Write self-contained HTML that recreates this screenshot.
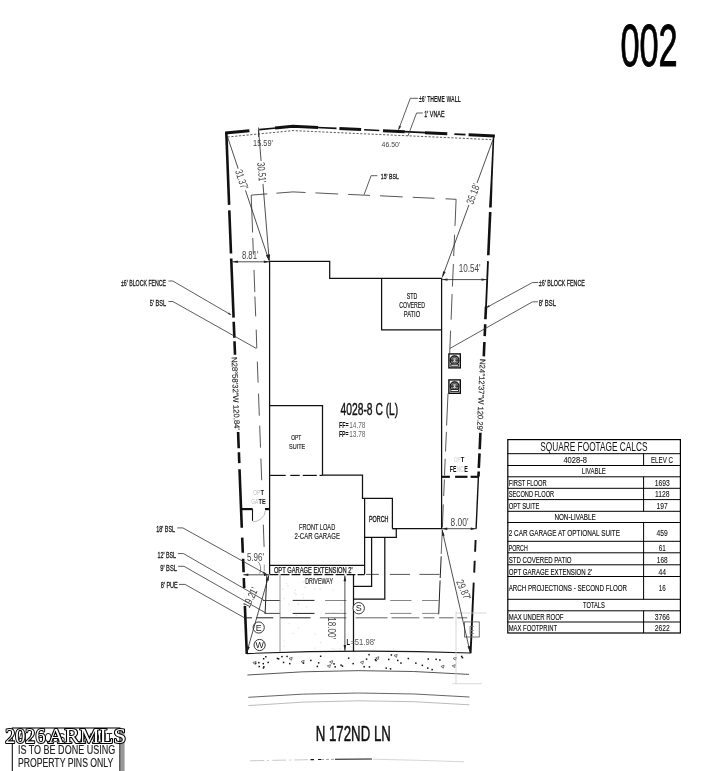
<!DOCTYPE html>
<html lang="en"><head><meta charset="utf-8"><title>Plot Plan 002</title>
<style>html,body{margin:0;padding:0;background:#fff}body{width:715px;height:771px;overflow:hidden}svg{will-change:transform}svg text{white-space:pre}</style></head>
<body>
<svg width="715" height="771" viewBox="0 0 715 771" style="display:block">
<rect width="715" height="771" fill="#fff"/>
<path d="M246.8 653.6 Q358 648.9 470.6 653.0" fill="none" stroke="#1a1a1a" stroke-width="1.1"/>
<path d="M247.4 675.0 Q358 666.6 469 674.4" fill="none" stroke="#444" stroke-width="0.9"/>
<path d="M248.3 697.3 Q358 688.9 469.5 697.0" fill="none" stroke="#555" stroke-width="0.9"/>
<path d="M248.3 705.6 Q358 696.4 469.5 704.8" fill="none" stroke="#aaa" stroke-width="0.8"/>
<path d="M250 760.8 Q290 760.0 310 759.7" fill="none" stroke="#bbb" stroke-width="0.8" stroke-dasharray="14 3 2 3"/>
<path d="M310.5 759.6 L314 759.6 M318 759.5 L321 759.5 M335 759.3 L372 759.0" fill="none" stroke="#111" stroke-width="1.1"/>
<path d="M321 759.5 L335 759.3" fill="none" stroke="#888" stroke-width="0.8" stroke-dasharray="3 2"/>
<path d="M373 759.2 Q420 760.2 464 761.8" fill="none" stroke="#ccc" stroke-width="0.8"/>
<rect x="319.9" y="655.5" width="1.5" height="1.5" fill="#111"/>
<rect x="390.6" y="654.2" width="1.5" height="1.5" fill="#111"/>
<rect x="365.8" y="658.4" width="1.5" height="1.5" fill="#111"/>
<rect x="262.5" y="662.9" width="1.5" height="1.5" fill="#111"/>
<rect x="258.1" y="661.9" width="1.5" height="1.5" fill="#111"/>
<rect x="265.1" y="656.0" width="1.5" height="1.5" fill="#111"/>
<rect x="341.7" y="665.4" width="1.5" height="1.5" fill="#111"/>
<rect x="276.7" y="657.7" width="1.5" height="1.5" fill="#111"/>
<rect x="385.5" y="667.4" width="1.5" height="1.5" fill="#111"/>
<rect x="374.7" y="658.9" width="1.5" height="1.5" fill="#111"/>
<rect x="460.9" y="655.7" width="1.5" height="1.5" fill="#111"/>
<rect x="435.4" y="658.6" width="1.5" height="1.5" fill="#111"/>
<rect x="281.2" y="655.9" width="1.5" height="1.5" fill="#111"/>
<rect x="316.6" y="665.7" width="1.5" height="1.5" fill="#111"/>
<rect x="289.0" y="662.9" width="1.5" height="1.5" fill="#111"/>
<rect x="388.0" y="658.7" width="1.5" height="1.5" fill="#111"/>
<rect x="368.3" y="653.9" width="1.5" height="1.5" fill="#111"/>
<rect x="262.9" y="658.0" width="1.5" height="1.5" fill="#111"/>
<rect x="397.0" y="659.7" width="1.5" height="1.5" fill="#111"/>
<rect x="317.9" y="662.1" width="1.5" height="1.5" fill="#111"/>
<rect x="347.9" y="657.4" width="1.5" height="1.5" fill="#111"/>
<rect x="421.6" y="664.6" width="1.5" height="1.5" fill="#111"/>
<rect x="302.7" y="662.4" width="1.5" height="1.5" fill="#111"/>
<rect x="363.4" y="666.0" width="1.5" height="1.5" fill="#111"/>
<rect x="407.6" y="657.8" width="1.5" height="1.5" fill="#111"/>
<rect x="461.7" y="656.9" width="1.5" height="1.5" fill="#111"/>
<rect x="340.3" y="664.4" width="1.5" height="1.5" fill="#111"/>
<rect x="282.8" y="661.7" width="1.5" height="1.5" fill="#111"/>
<rect x="258.5" y="665.8" width="1.5" height="1.5" fill="#111"/>
<rect x="415.1" y="662.4" width="1.5" height="1.5" fill="#111"/>
<rect x="439.1" y="659.2" width="1.5" height="1.5" fill="#111"/>
<rect x="400.2" y="662.3" width="1.5" height="1.5" fill="#111"/>
<rect x="375.3" y="659.8" width="1.5" height="1.5" fill="#111"/>
<rect x="431.4" y="668.9" width="1.5" height="1.5" fill="#111"/>
<rect x="352.4" y="662.9" width="1.5" height="1.5" fill="#111"/>
<rect x="263.1" y="666.1" width="1.5" height="1.5" fill="#111"/>
<rect x="389.8" y="668.1" width="1.5" height="1.5" fill="#111"/>
<rect x="427.5" y="658.3" width="1.5" height="1.5" fill="#111"/>
<rect x="333.3" y="663.1" width="1.5" height="1.5" fill="#111"/>
<rect x="254.9" y="662.6" width="1.5" height="1.5" fill="#111"/>
<rect x="286.3" y="655.7" width="1.5" height="1.5" fill="#111"/>
<rect x="262.7" y="667.2" width="1.5" height="1.5" fill="#111"/>
<rect x="277.9" y="658.1" width="1.5" height="1.5" fill="#111"/>
<rect x="334.4" y="666.1" width="1.5" height="1.5" fill="#111"/>
<rect x="267.4" y="661.7" width="1.5" height="1.5" fill="#111"/>
<rect x="368.7" y="666.2" width="1.5" height="1.5" fill="#111"/>
<rect x="427.0" y="667.4" width="1.5" height="1.5" fill="#111"/>
<rect x="310.1" y="659.7" width="1.5" height="1.5" fill="#111"/>
<path d="M327.3 665.9 l3.2 -1.2 l-0.8 3.0 z" fill="none" stroke="#444" stroke-width="0.7"/>
<path d="M453.1 658.4 l3.2 -1.2 l-0.8 3.0 z" fill="none" stroke="#444" stroke-width="0.7"/>
<path d="M289.0 658.5 l3.2 -1.2 l-0.8 3.0 z" fill="none" stroke="#444" stroke-width="0.7"/>
<path d="M301.0 661.5 l3.2 -1.2 l-0.8 3.0 z" fill="none" stroke="#444" stroke-width="0.7"/>
<path d="M375.7 657.9 l3.2 -1.2 l-0.8 3.0 z" fill="none" stroke="#444" stroke-width="0.7"/>
<path d="M252.9 662.6 l3.2 -1.2 l-0.8 3.0 z" fill="none" stroke="#444" stroke-width="0.7"/>
<path d="M329.5 661.8 l3.2 -1.2 l-0.8 3.0 z" fill="none" stroke="#444" stroke-width="0.7"/>
<path d="M452.2 665.8 l3.2 -1.2 l-0.8 3.0 z" fill="none" stroke="#444" stroke-width="0.7"/>
<path d="M360.3 662.3 l3.2 -1.2 l-0.8 3.0 z" fill="none" stroke="#444" stroke-width="0.7"/>
<path d="M394.0 655.5 l3.2 -1.2 l-0.8 3.0 z" fill="none" stroke="#444" stroke-width="0.7"/>
<path d="M440.9 666.4 l3.2 -1.2 l-0.8 3.0 z" fill="none" stroke="#444" stroke-width="0.7"/>
<rect x="335.3" y="634.6" width="1.3" height="1.3" fill="#e4e4e4"/>
<rect x="305.9" y="606.3" width="1.3" height="1.3" fill="#e4e4e4"/>
<rect x="288.3" y="623.0" width="1.3" height="1.3" fill="#e4e4e4"/>
<rect x="285.8" y="582.8" width="1.3" height="1.3" fill="#e4e4e4"/>
<rect x="294.7" y="589.5" width="1.3" height="1.3" fill="#e4e4e4"/>
<rect x="302.7" y="581.7" width="1.3" height="1.3" fill="#e4e4e4"/>
<rect x="282.0" y="588.7" width="1.3" height="1.3" fill="#e4e4e4"/>
<rect x="288.2" y="603.8" width="1.3" height="1.3" fill="#e4e4e4"/>
<rect x="283.6" y="640.1" width="1.3" height="1.3" fill="#e4e4e4"/>
<rect x="319.5" y="588.5" width="1.3" height="1.3" fill="#e4e4e4"/>
<rect x="297.4" y="602.7" width="1.3" height="1.3" fill="#e4e4e4"/>
<rect x="304.2" y="586.7" width="1.3" height="1.3" fill="#e4e4e4"/>
<rect x="333.8" y="648.5" width="1.3" height="1.3" fill="#e4e4e4"/>
<rect x="310.4" y="612.4" width="1.3" height="1.3" fill="#e4e4e4"/>
<rect x="287.2" y="585.3" width="1.3" height="1.3" fill="#e4e4e4"/>
<rect x="302.9" y="596.8" width="1.3" height="1.3" fill="#e4e4e4"/>
<rect x="332.6" y="589.5" width="1.3" height="1.3" fill="#e4e4e4"/>
<rect x="283.4" y="645.5" width="1.3" height="1.3" fill="#e4e4e4"/>
<rect x="314.2" y="588.4" width="1.3" height="1.3" fill="#e4e4e4"/>
<rect x="315.1" y="579.9" width="1.3" height="1.3" fill="#e4e4e4"/>
<rect x="314.2" y="647.5" width="1.3" height="1.3" fill="#e4e4e4"/>
<rect x="334.7" y="627.4" width="1.3" height="1.3" fill="#e4e4e4"/>
<rect x="297.9" y="604.0" width="1.3" height="1.3" fill="#e4e4e4"/>
<rect x="292.2" y="632.8" width="1.3" height="1.3" fill="#e4e4e4"/>
<rect x="314.5" y="633.3" width="1.3" height="1.3" fill="#e4e4e4"/>
<rect x="302.1" y="593.8" width="1.3" height="1.3" fill="#e4e4e4"/>
<rect x="331.5" y="647.9" width="1.3" height="1.3" fill="#e4e4e4"/>
<rect x="334.0" y="635.2" width="1.3" height="1.3" fill="#e4e4e4"/>
<rect x="331.9" y="630.5" width="1.3" height="1.3" fill="#e4e4e4"/>
<rect x="295.8" y="614.8" width="1.3" height="1.3" fill="#e4e4e4"/>
<rect x="303.7" y="580.1" width="1.3" height="1.3" fill="#e4e4e4"/>
<rect x="283.7" y="597.8" width="1.3" height="1.3" fill="#e4e4e4"/>
<rect x="297.8" y="627.2" width="1.3" height="1.3" fill="#e4e4e4"/>
<rect x="340.3" y="609.8" width="1.3" height="1.3" fill="#e4e4e4"/>
<rect x="339.2" y="648.2" width="1.3" height="1.3" fill="#e4e4e4"/>
<rect x="340.3" y="603.9" width="1.3" height="1.3" fill="#e4e4e4"/>
<rect x="295.4" y="594.1" width="1.3" height="1.3" fill="#e4e4e4"/>
<rect x="294.0" y="592.5" width="1.3" height="1.3" fill="#e4e4e4"/>
<rect x="320.1" y="641.9" width="1.3" height="1.3" fill="#e4e4e4"/>
<rect x="333.3" y="612.0" width="1.3" height="1.3" fill="#e4e4e4"/>
<polyline points="225.2,133.1 249.4,130.7" fill="none" stroke="#111" stroke-width="3.0"/>
<polyline points="259.2,129.7 276.0,128.0" fill="none" stroke="#111" stroke-width="1.7"/>
<polyline points="275.0,128.1 292.8,126.3 318.0,127.5" fill="none" stroke="#111" stroke-width="3.0"/>
<polyline points="317.0,127.5 336.5,128.4" fill="none" stroke="#111" stroke-width="1.7"/>
<polyline points="339.4,128.6 361.1,129.6" fill="none" stroke="#111" stroke-width="3.0"/>
<polyline points="364.1,129.7 379.3,130.5" fill="none" stroke="#111" stroke-width="1.5"/>
<polyline points="383.0,130.7 404.7,131.7" fill="none" stroke="#111" stroke-width="3.0"/>
<polyline points="404.0,131.7 425.5,132.7" fill="none" stroke="#111" stroke-width="1.8"/>
<polyline points="425.0,132.7 447.3,133.8" fill="none" stroke="#111" stroke-width="3.0"/>
<polyline points="454.4,134.1 465.5,134.6" fill="none" stroke="#111" stroke-width="1.7"/>
<polyline points="468.6,134.8 494.8,136.1" fill="none" stroke="#111" stroke-width="3.0"/>
<line x1="226.3" y1="132.0" x2="229.1" y2="204.9" stroke="#111" stroke-width="2.6"/>
<line x1="229.3" y1="210.4" x2="231.0" y2="253.5" stroke="#111" stroke-width="2.6"/>
<line x1="231.2" y1="258.5" x2="233.6" y2="317.6" stroke="#111" stroke-width="2.6"/>
<line x1="233.7" y1="321.8" x2="234.4" y2="337.8" stroke="#111" stroke-width="2.6"/>
<line x1="234.5" y1="341.2" x2="235.0" y2="354.7" stroke="#111" stroke-width="2.6"/>
<line x1="238.1" y1="432.0" x2="238.7" y2="448.3" stroke="#111" stroke-width="2.6"/>
<line x1="238.9" y1="452.2" x2="239.3" y2="463.1" stroke="#111" stroke-width="2.6"/>
<line x1="239.5" y1="469.3" x2="241.8" y2="527.7" stroke="#111" stroke-width="2.6"/>
<line x1="242.2" y1="537.6" x2="242.8" y2="552.8" stroke="#111" stroke-width="2.6"/>
<line x1="243.1" y1="558.7" x2="243.6" y2="572.2" stroke="#111" stroke-width="2.6"/>
<line x1="243.8" y1="578.0" x2="244.2" y2="588.0" stroke="#111" stroke-width="2.6"/>
<line x1="244.9" y1="606.0" x2="246.8" y2="654.0" stroke="#111" stroke-width="2.6"/>
<line x1="488.0" y1="261.1" x2="486.0" y2="307.5" stroke="#111" stroke-width="1.8"/>
<polygon points="492.87,135.50 494.37,135.50 492.59,180.00 490.69,180.00" fill="#111"/>
<polygon points="490.69,180.00 492.59,180.00 491.77,207.40 489.07,207.40" fill="#111"/>
<line x1="490.2" y1="212.0" x2="488.3" y2="255.2" stroke="#111" stroke-width="2.6"/>
<line x1="486.0" y1="306.5" x2="485.4" y2="319.3" stroke="#111" stroke-width="2.6"/>
<line x1="485.2" y1="324.3" x2="484.7" y2="336.1" stroke="#111" stroke-width="2.6"/>
<line x1="484.4" y1="342.0" x2="483.8" y2="356.4" stroke="#111" stroke-width="2.6"/>
<line x1="480.4" y1="432.8" x2="479.7" y2="449.3" stroke="#111" stroke-width="2.6"/>
<line x1="479.5" y1="453.4" x2="478.8" y2="468.0" stroke="#111" stroke-width="2.6"/>
<line x1="478.7" y1="471.5" x2="478.4" y2="476.8" stroke="#111" stroke-width="2.6"/>
<line x1="478.4" y1="476.8" x2="476.1" y2="528.7" stroke="#111" stroke-width="1.4"/>
<line x1="475.6" y1="540.0" x2="475.1" y2="551.7" stroke="#111" stroke-width="1.9"/>
<line x1="474.7" y1="560.8" x2="474.2" y2="572.6" stroke="#111" stroke-width="1.9"/>
<line x1="473.7" y1="582.6" x2="470.6" y2="653.2" stroke="#111" stroke-width="1.9"/>
<polyline points="227.6,137.0 293.0,130.6 491.3,139.6" fill="none" stroke="#333" stroke-width="0.8" stroke-dasharray="2.2 1.6"/>
<polyline points="251.3,195.1 267.3,193.9" fill="none" stroke="#444" stroke-width="0.9"/>
<polyline points="276.4,193.2 293.0,191.9 305.5,192.5" fill="none" stroke="#444" stroke-width="0.9"/>
<polyline points="315.5,192.9 338.2,194.0" fill="none" stroke="#444" stroke-width="0.9"/>
<polyline points="348.2,194.4 370.0,195.4" fill="none" stroke="#444" stroke-width="0.9"/>
<polyline points="380.0,195.8 402.7,196.9" fill="none" stroke="#444" stroke-width="0.9"/>
<polyline points="412.7,197.3 434.5,198.3" fill="none" stroke="#444" stroke-width="0.9"/>
<polyline points="445.5,198.8 456.1,199.3" fill="none" stroke="#444" stroke-width="0.9"/>
<line x1="251.2" y1="195.0" x2="252.6" y2="232.5" stroke="#444" stroke-width="0.9"/>
<line x1="252.8" y1="238.0" x2="253.4" y2="254.6" stroke="#444" stroke-width="0.9"/>
<line x1="254.0" y1="270.0" x2="254.8" y2="292.1" stroke="#444" stroke-width="0.9"/>
<line x1="254.9" y1="296.5" x2="255.7" y2="316.4" stroke="#444" stroke-width="0.9"/>
<line x1="256.2" y1="329.6" x2="256.8" y2="348.4" stroke="#444" stroke-width="0.9"/>
<line x1="257.3" y1="361.6" x2="258.1" y2="382.6" stroke="#444" stroke-width="0.9"/>
<line x1="258.5" y1="393.6" x2="259.3" y2="415.7" stroke="#444" stroke-width="0.9"/>
<line x1="259.7" y1="425.6" x2="260.5" y2="447.6" stroke="#444" stroke-width="0.9"/>
<line x1="260.9" y1="458.5" x2="261.7" y2="480.2" stroke="#444" stroke-width="0.9"/>
<line x1="263.3" y1="524.6" x2="264.1" y2="546.9" stroke="#444" stroke-width="0.9"/>
<line x1="264.3" y1="564.6" x2="264.3" y2="571.3" stroke="#888" stroke-width="0.8"/>
<line x1="266.8" y1="575.5" x2="265.1" y2="613.5" stroke="#222" stroke-width="1.0"/>
<line x1="456.1" y1="199.3" x2="455.0" y2="225.9" stroke="#444" stroke-width="0.9"/>
<line x1="454.6" y1="234.7" x2="453.7" y2="256.0" stroke="#444" stroke-width="0.9"/>
<line x1="453.4" y1="264.0" x2="452.4" y2="286.6" stroke="#444" stroke-width="0.9"/>
<line x1="452.1" y1="294.1" x2="451.1" y2="319.7" stroke="#444" stroke-width="0.9"/>
<line x1="450.6" y1="330.7" x2="449.7" y2="353.0" stroke="#444" stroke-width="0.9"/>
<line x1="448.0" y1="393.5" x2="446.6" y2="425.6" stroke="#444" stroke-width="0.9"/>
<line x1="446.4" y1="431.8" x2="445.5" y2="451.5" stroke="#444" stroke-width="0.9"/>
<line x1="445.2" y1="458.8" x2="444.5" y2="475.3" stroke="#444" stroke-width="0.9"/>
<line x1="444.4" y1="479.5" x2="443.7" y2="496.0" stroke="#444" stroke-width="0.9"/>
<line x1="443.3" y1="504.4" x2="442.4" y2="527.2" stroke="#444" stroke-width="0.9"/>
<line x1="442.3" y1="530.0" x2="441.2" y2="554.0" stroke="#555" stroke-width="0.9"/>
<line x1="441.2" y1="556.3" x2="440.2" y2="578.0" stroke="#222" stroke-width="1.0"/>
<line x1="440.1" y1="580.5" x2="438.7" y2="614.3" stroke="#222" stroke-width="1.0"/>
<line x1="366.0" y1="574.4" x2="378.9" y2="574.4" stroke="#444" stroke-width="0.9"/>
<line x1="389.8" y1="574.4" x2="410.0" y2="574.4" stroke="#444" stroke-width="0.9"/>
<line x1="419.4" y1="574.4" x2="439.6" y2="574.4" stroke="#444" stroke-width="0.9"/>
<line x1="262.9" y1="600.5" x2="280.2" y2="600.5" stroke="#333" stroke-width="0.9"/>
<line x1="325.1" y1="600.5" x2="346.4" y2="600.5" stroke="#777" stroke-width="0.9"/>
<line x1="390.2" y1="600.5" x2="411.5" y2="600.5" stroke="#777" stroke-width="0.9"/>
<line x1="422.1" y1="600.5" x2="438.5" y2="600.5" stroke="#777" stroke-width="0.9"/>
<line x1="264.6" y1="613.4" x2="280.2" y2="613.4" stroke="#333" stroke-width="0.9"/>
<line x1="325.1" y1="613.4" x2="346.4" y2="613.4" stroke="#777" stroke-width="0.9"/>
<line x1="390.2" y1="613.4" x2="411.5" y2="613.4" stroke="#777" stroke-width="0.9"/>
<line x1="422.1" y1="613.4" x2="438.5" y2="613.4" stroke="#777" stroke-width="0.9"/>
<line x1="245.2" y1="617.8" x2="252.0" y2="617.8" stroke="#222" stroke-width="1.0"/>
<line x1="256.5" y1="617.8" x2="273.3" y2="617.8" stroke="#222" stroke-width="1.0"/>
<line x1="280.0" y1="617.8" x2="310.5" y2="617.8" stroke="#222" stroke-width="1.0"/>
<line x1="319.8" y1="617.8" x2="346.4" y2="617.8" stroke="#555" stroke-width="0.9"/>
<line x1="355.7" y1="617.8" x2="387.6" y2="617.8" stroke="#555" stroke-width="0.9"/>
<line x1="391.5" y1="617.8" x2="419.4" y2="617.8" stroke="#555" stroke-width="0.9"/>
<line x1="423.4" y1="617.8" x2="434.5" y2="617.8" stroke="#555" stroke-width="0.9"/>
<line x1="439.0" y1="617.8" x2="453.6" y2="617.8" stroke="#555" stroke-width="0.9"/>
<line x1="457.2" y1="617.8" x2="467.2" y2="617.8" stroke="#555" stroke-width="0.9"/>
<polyline points="269.6,574.3 269.6,261.3 329.7,261.3 329.7,278.3 441.6,278.3 441.6,528.5 392.4,528.5" fill="none" stroke="#111" stroke-width="1.25"/>
<polyline points="381.6,278.3 381.6,329.9 441.6,329.9" fill="none" stroke="#111" stroke-width="1.25"/>
<polyline points="269.6,405.5 322.5,405.5 322.5,475.2" fill="none" stroke="#111" stroke-width="1.25"/>
<line x1="270.1" y1="475.4" x2="285.7" y2="475.4" stroke="#111" stroke-width="1.2"/>
<line x1="290.3" y1="475.4" x2="299.7" y2="475.4" stroke="#111" stroke-width="1.2"/>
<line x1="302.8" y1="475.4" x2="316.8" y2="475.4" stroke="#111" stroke-width="1.2"/>
<line x1="319.5" y1="475.4" x2="322.5" y2="475.4" stroke="#111" stroke-width="1.2"/>
<polyline points="322.5,475.2 362.5,475.2 362.5,498.3 392.4,498.3 392.4,528.5" fill="none" stroke="#111" stroke-width="1.25"/>
<polyline points="364.6,498.3 364.6,574.3" fill="none" stroke="#111" stroke-width="1.25"/>
<polyline points="392.4,528.5 396.3,528.5 396.3,537.3 364.6,537.3" fill="none" stroke="#111" stroke-width="1.25"/>
<line x1="269.6" y1="565.3" x2="364.6" y2="565.3" stroke="#111" stroke-width="1.25"/>
<line x1="269.6" y1="574.7" x2="364.6" y2="574.7" stroke="#111" stroke-width="1.3" stroke-dasharray="8.8 2.2"/>
<polyline points="371.6,537.3 371.6,586.3 353.5,586.3" fill="none" stroke="#111" stroke-width="1.25"/>
<polyline points="384.8,537.3 384.8,599.0 353.5,599.0" fill="none" stroke="#111" stroke-width="1.25"/>
<line x1="353.5" y1="574.3" x2="353.5" y2="651.3" stroke="#111" stroke-width="1.25"/>
<line x1="280.0" y1="574.3" x2="280.0" y2="651.8" stroke="#888" stroke-width="0.9"/>
<line x1="292.7" y1="600.4" x2="314.5" y2="600.4" stroke="#222" stroke-width="1.0"/>
<line x1="292.7" y1="613.4" x2="314.5" y2="613.4" stroke="#222" stroke-width="1.0"/>
<rect x="448.9" y="353.9" width="11.4" height="14.0" fill="#eee" stroke="#000" stroke-width="1.3"/>
<circle cx="454.6" cy="360.2" r="4.4" fill="#888" stroke="#111" stroke-width="1.2"/>
<circle cx="454.6" cy="360.2" r="2.7" fill="#bbb" stroke="#333" stroke-width="0.8"/>
<line x1="450.4" y1="360.2" x2="458.8" y2="360.2" stroke="#222" stroke-width="1.1"/>
<circle cx="454.6" cy="360.2" r="0.7" fill="#fff"/>
<rect x="450.8" y="364.2" width="7.6" height="2.0" fill="#fff" stroke="#111" stroke-width="0.9"/>
<rect x="448.9" y="379.9" width="11.4" height="13.4" fill="#eee" stroke="#000" stroke-width="1.3"/>
<circle cx="454.6" cy="386.2" r="4.4" fill="#888" stroke="#111" stroke-width="1.2"/>
<circle cx="454.6" cy="386.2" r="2.7" fill="#bbb" stroke="#333" stroke-width="0.8"/>
<line x1="450.4" y1="386.2" x2="458.8" y2="386.2" stroke="#222" stroke-width="1.1"/>
<circle cx="454.6" cy="386.2" r="0.7" fill="#fff"/>
<rect x="450.8" y="389.6" width="7.6" height="2.0" fill="#fff" stroke="#111" stroke-width="0.9"/>
<line x1="241.2" y1="509.1" x2="252.6" y2="509.1" stroke="#111" stroke-width="2.2"/>
<line x1="252.5" y1="509.1" x2="252.5" y2="520.8" stroke="#111" stroke-width="1.1"/>
<line x1="265.0" y1="509.1" x2="269.6" y2="509.1" stroke="#111" stroke-width="2.2"/>
<path d="M252.7 521.8 A12.6 12.6 0 0 0 265.4 511.0" fill="none" stroke="#aaa" stroke-width="0.8"/>
<line x1="441.6" y1="476.8" x2="449.9" y2="476.8" stroke="#111" stroke-width="2.2"/>
<line x1="455.1" y1="476.8" x2="467.5" y2="476.8" stroke="#111" stroke-width="2.2"/>
<line x1="470.6" y1="476.8" x2="478.6" y2="476.8" stroke="#111" stroke-width="2.2"/>
<circle cx="258.7" cy="627.5" r="5.6" fill="#fff" stroke="#222" stroke-width="0.9"/>
<text x="258.7" y="630.7" font-family='"Liberation Sans", sans-serif' font-size="8.8" font-weight="normal" text-anchor="middle" fill="#222">E</text>
<circle cx="259.6" cy="645.0" r="5.6" fill="#fff" stroke="#222" stroke-width="0.9"/>
<text x="259.6" y="648.2" font-family='"Liberation Sans", sans-serif' font-size="8.8" font-weight="normal" text-anchor="middle" fill="#222">W</text>
<circle cx="358.7" cy="608.2" r="5.7" fill="#fff" stroke="#222" stroke-width="0.9"/>
<text x="358.7" y="611.4" font-family='"Liberation Sans", sans-serif' font-size="9" font-weight="normal" text-anchor="middle" fill="#222">S</text>
<rect x="464.5" y="621.9" width="14.8" height="15.1" fill="none" stroke="#666" stroke-width="0.9"/>
<text x="471.6" y="633.5" font-family='"Liberation Sans", sans-serif' font-size="10" font-weight="normal" text-anchor="middle" fill="#777" textLength="5.2" lengthAdjust="spacingAndGlyphs">E</text>
<line x1="456.0" y1="611.4" x2="456.0" y2="683.7" stroke="#ccc" stroke-width="0.8"/>
<line x1="456.0" y1="613.0" x2="486.4" y2="613.0" stroke="#ccc" stroke-width="0.8"/>
<line x1="452.6" y1="683.7" x2="481.8" y2="683.7" stroke="#ccc" stroke-width="0.8"/>
<line x1="258.6" y1="130.2" x2="269.2" y2="260.5" stroke="#222" stroke-width="0.8"/>
<polygon points="269.3,261.0 267.5,254.6 270.1,254.4" fill="#222"/>
<line x1="258.6" y1="127.5" x2="258.6" y2="137.0" stroke="#222" stroke-width="0.8"/>
<line x1="227.4" y1="136.5" x2="269.0" y2="260.5" stroke="#222" stroke-width="0.8"/>
<polygon points="269.2,261.0 265.9,255.2 268.4,254.4" fill="#222"/>
<line x1="492.9" y1="139.9" x2="442.3" y2="277.2" stroke="#222" stroke-width="0.8"/>
<polygon points="442.1,277.8 443.1,271.3 445.6,272.1" fill="#222"/>
<line x1="232.3" y1="261.8" x2="269.4" y2="261.8" stroke="#222" stroke-width="0.8"/>
<polygon points="232.3,261.8 237.8,260.6 237.8,263.0" fill="#222"/>
<polygon points="269.4,261.8 263.9,263.0 263.9,260.6" fill="#222"/>
<line x1="442.0" y1="279.6" x2="487.0" y2="279.6" stroke="#222" stroke-width="0.8"/>
<polygon points="442.0,279.6 447.5,278.4 447.5,280.8" fill="#222"/>
<polygon points="487.0,279.6 481.5,280.8 481.5,278.4" fill="#222"/>
<line x1="441.8" y1="528.7" x2="476.2" y2="528.7" stroke="#222" stroke-width="0.8"/>
<polygon points="441.8,528.7 447.3,527.5 447.3,529.9" fill="#222"/>
<polygon points="476.2,528.7 470.7,529.9 470.7,527.5" fill="#222"/>
<line x1="442.1" y1="529.8" x2="470.1" y2="652.2" stroke="#222" stroke-width="0.8"/>
<polygon points="442.0,529.4 444.7,535.4 442.2,536.0" fill="#222"/>
<polygon points="470.2,652.6 467.5,646.6 470.0,646.0" fill="#222"/>
<line x1="243.3" y1="574.8" x2="269.0" y2="574.8" stroke="#222" stroke-width="0.8"/>
<polygon points="243.3,574.8 248.3,573.6 248.3,576.0" fill="#222"/>
<polygon points="269.0,574.8 264.0,576.0 264.0,573.6" fill="#222"/>
<path d="M258.0 561.6 Q262.2 566 259.8 573.5" fill="none" stroke="#555" stroke-width="0.7"/>
<line x1="268.9" y1="575.2" x2="246.6" y2="653.0" stroke="#222" stroke-width="0.8"/>
<polygon points="269.0,574.9 268.6,581.0 266.1,580.3" fill="#222"/>
<polygon points="246.5,653.4 247.0,646.3 249.9,647.1" fill="#222"/>
<line x1="344.9" y1="575.5" x2="344.9" y2="650.9" stroke="#222" stroke-width="0.8"/>
<polygon points="344.9,575.3 346.2,581.3 343.6,581.3" fill="#222"/>
<polygon points="344.9,651.1 343.6,645.1 346.2,645.1" fill="#222"/>
<polyline points="418.1,98.3 410.3,98.3 398.6,129.6" fill="none" stroke="#333" stroke-width="0.8"/>
<polygon points="398.4,130.2 398.9,125.6 401.1,126.4" fill="#333"/>
<polyline points="422.8,113.0 416.6,113.0 408.0,135.8" fill="none" stroke="#333" stroke-width="0.8"/>
<polyline points="377.4,175.7 371.1,175.7 364.1,194.6" fill="none" stroke="#333" stroke-width="0.8"/>
<polyline points="168.5,281.0 172.8,281.0 230.9,314.8" fill="none" stroke="#333" stroke-width="0.8"/>
<polygon points="231.3,315.0 227.8,314.1 228.8,312.4" fill="#333"/>
<polyline points="168.5,301.5 172.8,301.5 256.1,348.3" fill="none" stroke="#333" stroke-width="0.8"/>
<polyline points="538.0,282.5 532.5,282.5 486.6,307.5" fill="none" stroke="#333" stroke-width="0.8"/>
<polygon points="486.2,307.7 488.8,305.1 489.8,306.9" fill="#333"/>
<polyline points="538.0,301.8 532.5,301.8 450.0,348.4" fill="none" stroke="#333" stroke-width="0.8"/>
<polyline points="177.3,527.9 182.8,527.9 267.0,574.6" fill="none" stroke="#333" stroke-width="0.8"/>
<polygon points="267.4,574.8 262.5,573.3 263.6,571.4" fill="#333"/>
<polyline points="178.1,553.6 183.5,553.6 263.5,599.8" fill="none" stroke="#333" stroke-width="0.8"/>
<polyline points="178.1,566.3 184.0,566.3 265.8,613.0" fill="none" stroke="#333" stroke-width="0.8"/>
<polyline points="178.9,584.4 185.0,584.4 244.8,618.0" fill="none" stroke="#333" stroke-width="0.8"/>
<text x="620.4" y="66.2" font-family='"Liberation Sans", sans-serif' font-size="58.6" font-weight="normal" text-anchor="start" fill="#000" textLength="57.3" lengthAdjust="spacingAndGlyphs" stroke="#000" stroke-width="0.9">002</text>
<text x="315.7" y="741.4" font-family='"Liberation Sans", sans-serif' font-size="21.4" font-weight="normal" text-anchor="start" fill="#111" textLength="75.2" lengthAdjust="spacingAndGlyphs" stroke="#111" stroke-width="0.5">N 172ND LN</text>
<text x="340.6" y="414.7" font-family='"Liberation Sans", sans-serif' font-size="16.8" font-weight="normal" text-anchor="start" fill="#111" textLength="57.6" lengthAdjust="spacingAndGlyphs" stroke="#111" stroke-width="0.45">4028-8 C (L)</text>
<text x="338.9" y="427.9" font-family='"Liberation Sans", sans-serif' font-size="8.2" font-weight="bold" text-anchor="start" fill="#111" textLength="9.8" lengthAdjust="spacingAndGlyphs">FF=</text>
<text x="349.2" y="427.9" font-family='"Liberation Sans", sans-serif' font-size="8.2" font-weight="normal" text-anchor="start" fill="#666" textLength="16.2" lengthAdjust="spacingAndGlyphs">14.78</text>
<text x="338.9" y="436.6" font-family='"Liberation Sans", sans-serif' font-size="8.2" font-weight="bold" text-anchor="start" fill="#111" textLength="9.8" lengthAdjust="spacingAndGlyphs">FP=</text>
<text x="349.2" y="436.6" font-family='"Liberation Sans", sans-serif' font-size="8.2" font-weight="normal" text-anchor="start" fill="#666" textLength="16.2" lengthAdjust="spacingAndGlyphs">13.78</text>
<text x="418.9" y="102.2" font-family='"Liberation Sans", sans-serif' font-size="8.2" font-weight="bold" text-anchor="start" fill="#1a1a1a" textLength="42.0" lengthAdjust="spacingAndGlyphs">±6' THEME WALL</text>
<text x="424.3" y="116.7" font-family='"Liberation Sans", sans-serif' font-size="8.2" font-weight="normal" text-anchor="start" fill="#1a1a1a" textLength="20.3" lengthAdjust="spacingAndGlyphs" stroke="#1a1a1a" stroke-width="0.3">1' VNAE</text>
<text x="381.6" y="147.3" font-family='"Liberation Sans", sans-serif' font-size="7.6" font-weight="normal" text-anchor="start" fill="#444" textLength="18.6" lengthAdjust="spacingAndGlyphs">46.50'</text>
<text x="253.1" y="145.6" font-family='"Liberation Sans", sans-serif' font-size="8.6" font-weight="normal" text-anchor="start" fill="#444" textLength="19.8" lengthAdjust="spacingAndGlyphs">15.59'</text>
<text x="380.8" y="179.2" font-family='"Liberation Sans", sans-serif' font-size="8.0" font-weight="normal" text-anchor="start" fill="#1a1a1a" textLength="18.0" lengthAdjust="spacingAndGlyphs" stroke="#1a1a1a" stroke-width="0.3">15' BSL</text>
<g transform="translate(262.0 172.4) rotate(85.3)"><rect x="-11.4" y="-5.1" width="22.9" height="10.2" fill="#fff"/><text x="-10.2" y="3.9" font-family='"Liberation Sans", sans-serif' font-size="10.8" font-weight="normal" fill="#444" textLength="20.5" lengthAdjust="spacingAndGlyphs">30.51'</text></g>
<g transform="translate(241.9 179.4) rotate(71.5)"><rect x="-11.4" y="-5.1" width="22.9" height="10.2" fill="#fff"/><text x="-10.2" y="3.9" font-family='"Liberation Sans", sans-serif' font-size="10.8" font-weight="normal" fill="#444" textLength="20.5" lengthAdjust="spacingAndGlyphs">31.37'</text></g>
<g transform="translate(473.0 193.9) rotate(-69.8)"><rect x="-11.7" y="-5.1" width="23.4" height="10.2" fill="#fff"/><text x="-10.5" y="3.9" font-family='"Liberation Sans", sans-serif' font-size="10.8" font-weight="normal" fill="#444" textLength="21.0" lengthAdjust="spacingAndGlyphs">35.18'</text></g>
<text x="241.9" y="258.6" font-family='"Liberation Sans", sans-serif' font-size="11.5" font-weight="normal" text-anchor="start" fill="#444" textLength="16.6" lengthAdjust="spacingAndGlyphs">8.81'</text>
<text x="458.7" y="272.3" font-family='"Liberation Sans", sans-serif' font-size="10.8" font-weight="normal" text-anchor="start" fill="#444" textLength="22.0" lengthAdjust="spacingAndGlyphs">10.54'</text>
<text x="450.6" y="525.9" font-family='"Liberation Sans", sans-serif' font-size="11.3" font-weight="normal" text-anchor="start" fill="#444" textLength="17.9" lengthAdjust="spacingAndGlyphs">8.00'</text>
<g transform="translate(463.9 589.8) rotate(66)"><text x="-10.5" y="3.9" font-family='"Liberation Sans", sans-serif' font-size="10.8" font-weight="normal" fill="#444" textLength="21.0" lengthAdjust="spacingAndGlyphs">29.87'</text></g>
<text x="246.9" y="561.3" font-family='"Liberation Sans", sans-serif' font-size="10.6" font-weight="normal" text-anchor="start" fill="#444" textLength="17.2" lengthAdjust="spacingAndGlyphs">5.96'</text>
<g transform="translate(250.3 597.5) rotate(-64)"><text x="-10.5" y="3.9" font-family='"Liberation Sans", sans-serif' font-size="10.8" font-weight="normal" fill="#444" textLength="21.0" lengthAdjust="spacingAndGlyphs">19.21'</text></g>
<g transform="translate(331.9 628.2) rotate(90)"><text x="-10.9" y="4.0" font-family='"Liberation Sans", sans-serif' font-size="11.0" font-weight="normal" fill="#444" textLength="21.8" lengthAdjust="spacingAndGlyphs">18.00'</text></g>
<text x="346.4" y="645.2" font-family='"Liberation Sans", sans-serif' font-size="9.5" font-weight="bold" text-anchor="start" fill="#111" textLength="3.6" lengthAdjust="spacingAndGlyphs">L</text>
<text x="350.4" y="645.2" font-family='"Liberation Sans", sans-serif' font-size="9.5" font-weight="normal" text-anchor="start" fill="#555" textLength="25.0" lengthAdjust="spacingAndGlyphs">=51.98'</text>
<text transform="translate(231.5 357.2) rotate(87.8)" font-family='"Liberation Sans", sans-serif' font-size="8.0" font-weight="normal" text-anchor="start" fill="#1a1a1a" textLength="72.8" lengthAdjust="spacingAndGlyphs" stroke="#1a1a1a" stroke-width="0.1">N28°58'32"W 120.84'</text>
<text transform="translate(480.0 359.0) rotate(92.4)" font-family='"Liberation Sans", sans-serif' font-size="8.0" font-weight="normal" text-anchor="start" fill="#1a1a1a" textLength="72.2" lengthAdjust="spacingAndGlyphs" stroke="#1a1a1a" stroke-width="0.1">N24°12'37"W 120.29'</text>
<text x="121.0" y="285.8" font-family='"Liberation Sans", sans-serif' font-size="9.0" font-weight="normal" text-anchor="start" fill="#1a1a1a" textLength="45.1" lengthAdjust="spacingAndGlyphs" stroke="#1a1a1a" stroke-width="0.3">±6' BLOCK FENCE</text>
<text x="149.8" y="305.7" font-family='"Liberation Sans", sans-serif' font-size="9.0" font-weight="normal" text-anchor="start" fill="#1a1a1a" textLength="16.3" lengthAdjust="spacingAndGlyphs" stroke="#1a1a1a" stroke-width="0.3">5' BSL</text>
<text x="538.8" y="286.2" font-family='"Liberation Sans", sans-serif' font-size="9.0" font-weight="normal" text-anchor="start" fill="#1a1a1a" textLength="46.1" lengthAdjust="spacingAndGlyphs" stroke="#1a1a1a" stroke-width="0.3">±6' BLOCK FENCE</text>
<text x="538.8" y="306.0" font-family='"Liberation Sans", sans-serif' font-size="9.0" font-weight="normal" text-anchor="start" fill="#1a1a1a" textLength="17.2" lengthAdjust="spacingAndGlyphs" stroke="#1a1a1a" stroke-width="0.3">8' BSL</text>
<text x="156.3" y="531.9" font-family='"Liberation Sans", sans-serif' font-size="9.0" font-weight="normal" text-anchor="start" fill="#1a1a1a" textLength="18.7" lengthAdjust="spacingAndGlyphs" stroke="#1a1a1a" stroke-width="0.3">18' BSL</text>
<text x="157.4" y="558.0" font-family='"Liberation Sans", sans-serif' font-size="9.0" font-weight="normal" text-anchor="start" fill="#1a1a1a" textLength="18.7" lengthAdjust="spacingAndGlyphs" stroke="#1a1a1a" stroke-width="0.3">12' BSL</text>
<text x="160.2" y="570.8" font-family='"Liberation Sans", sans-serif' font-size="9.0" font-weight="normal" text-anchor="start" fill="#1a1a1a" textLength="16.7" lengthAdjust="spacingAndGlyphs" stroke="#1a1a1a" stroke-width="0.3">9' BSL</text>
<text x="160.7" y="588.4" font-family='"Liberation Sans", sans-serif' font-size="9.0" font-weight="normal" text-anchor="start" fill="#1a1a1a" textLength="17.1" lengthAdjust="spacingAndGlyphs" stroke="#1a1a1a" stroke-width="0.3">8' PUE</text>
<text x="412.0" y="298.6" font-family='"Liberation Sans", sans-serif' font-size="8.5" font-weight="normal" text-anchor="middle" fill="#222" textLength="10.5" lengthAdjust="spacingAndGlyphs" stroke="#222" stroke-width="0.2">STD</text>
<text x="412.2" y="307.8" font-family='"Liberation Sans", sans-serif' font-size="8.5" font-weight="normal" text-anchor="middle" fill="#222" textLength="25.7" lengthAdjust="spacingAndGlyphs" stroke="#222" stroke-width="0.2">COVERED</text>
<text x="412.0" y="316.8" font-family='"Liberation Sans", sans-serif' font-size="8.5" font-weight="normal" text-anchor="middle" fill="#222" textLength="16.3" lengthAdjust="spacingAndGlyphs" stroke="#222" stroke-width="0.2">PATIO</text>
<text x="296.3" y="440.2" font-family='"Liberation Sans", sans-serif' font-size="8.1" font-weight="normal" text-anchor="middle" fill="#222" textLength="10.2" lengthAdjust="spacingAndGlyphs" stroke="#222" stroke-width="0.2">OPT</text>
<text x="297.1" y="449.4" font-family='"Liberation Sans", sans-serif' font-size="8.1" font-weight="normal" text-anchor="middle" fill="#222" textLength="16.2" lengthAdjust="spacingAndGlyphs" stroke="#222" stroke-width="0.2">SUITE</text>
<text x="317.1" y="529.5" font-family='"Liberation Sans", sans-serif' font-size="8.7" font-weight="normal" text-anchor="middle" fill="#222" textLength="36.2" lengthAdjust="spacingAndGlyphs" stroke="#222" stroke-width="0.15">FRONT LOAD</text>
<text x="317.2" y="538.9" font-family='"Liberation Sans", sans-serif' font-size="8.7" font-weight="normal" text-anchor="middle" fill="#222" textLength="45.4" lengthAdjust="spacingAndGlyphs" stroke="#222" stroke-width="0.15">2-CAR GARAGE</text>
<text x="378.7" y="521.6" font-family='"Liberation Sans", sans-serif' font-size="8.6" font-weight="normal" text-anchor="middle" fill="#111" textLength="19.6" lengthAdjust="spacingAndGlyphs" stroke="#111" stroke-width="0.3">PORCH</text>
<text x="273.9" y="573.3" font-family='"Liberation Sans", sans-serif' font-size="8.5" font-weight="normal" text-anchor="start" fill="#111" textLength="78.7" lengthAdjust="spacingAndGlyphs" stroke="#111" stroke-width="0.25">OPT GARAGE EXTENSION 2'</text>
<text x="305.2" y="584.3" font-family='"Liberation Sans", sans-serif' font-size="8.6" font-weight="normal" text-anchor="start" fill="#222" textLength="27.8" lengthAdjust="spacingAndGlyphs" stroke="#222" stroke-width="0.15">DRIVEWAY</text>
<text x="253.3" y="494.9" font-family='"Liberation Sans", sans-serif' font-size="7.8" font-weight="normal" text-anchor="start" fill="#bbb" textLength="7.0" lengthAdjust="spacingAndGlyphs">OP</text>
<text x="260.6" y="494.9" font-family='"Liberation Sans", sans-serif' font-size="7.8" font-weight="bold" text-anchor="start" fill="#111" textLength="3.5" lengthAdjust="spacingAndGlyphs">T</text>
<text x="251.3" y="504.2" font-family='"Liberation Sans", sans-serif' font-size="7.8" font-weight="normal" text-anchor="start" fill="#bbb" textLength="7.0" lengthAdjust="spacingAndGlyphs">GA</text>
<text x="258.6" y="504.2" font-family='"Liberation Sans", sans-serif' font-size="7.8" font-weight="bold" text-anchor="start" fill="#111" textLength="7.2" lengthAdjust="spacingAndGlyphs">TE</text>
<text x="453.9" y="462.3" font-family='"Liberation Sans", sans-serif' font-size="8.0" font-weight="normal" text-anchor="start" fill="#ccc" textLength="6.6" lengthAdjust="spacingAndGlyphs">OP</text>
<text x="460.8" y="462.3" font-family='"Liberation Sans", sans-serif' font-size="8.0" font-weight="bold" text-anchor="start" fill="#111" textLength="3.6" lengthAdjust="spacingAndGlyphs">T</text>
<text x="449.8" y="471.9" font-family='"Liberation Sans", sans-serif' font-size="8.4" font-weight="bold" text-anchor="start" fill="#111" textLength="6.6" lengthAdjust="spacingAndGlyphs">FE</text>
<text x="456.8" y="471.9" font-family='"Liberation Sans", sans-serif' font-size="8.4" font-weight="normal" text-anchor="start" fill="#ccc" textLength="7.0" lengthAdjust="spacingAndGlyphs">NC</text>
<text x="464.2" y="471.9" font-family='"Liberation Sans", sans-serif' font-size="8.4" font-weight="bold" text-anchor="start" fill="#111" textLength="3.6" lengthAdjust="spacingAndGlyphs">E</text>
<rect x="507.8" y="439.6" width="172.6" height="193.4" fill="#fff" stroke="#000" stroke-width="1.2"/>
<line x1="507.8" y1="453.7" x2="680.4" y2="453.7" stroke="#000" stroke-width="1.0"/>
<line x1="507.8" y1="465.5" x2="680.4" y2="465.5" stroke="#000" stroke-width="1.0"/>
<line x1="507.8" y1="476.8" x2="680.4" y2="476.8" stroke="#000" stroke-width="1.0"/>
<line x1="507.8" y1="488.3" x2="680.4" y2="488.3" stroke="#000" stroke-width="1.0"/>
<line x1="507.8" y1="499.6" x2="680.4" y2="499.6" stroke="#000" stroke-width="1.0"/>
<line x1="507.8" y1="511.3" x2="680.4" y2="511.3" stroke="#000" stroke-width="1.0"/>
<line x1="507.8" y1="522.5" x2="680.4" y2="522.5" stroke="#000" stroke-width="1.0"/>
<line x1="507.8" y1="541.3" x2="680.4" y2="541.3" stroke="#000" stroke-width="1.0"/>
<line x1="507.8" y1="552.8" x2="680.4" y2="552.8" stroke="#000" stroke-width="1.0"/>
<line x1="507.8" y1="564.8" x2="680.4" y2="564.8" stroke="#000" stroke-width="1.0"/>
<line x1="507.8" y1="576.5" x2="680.4" y2="576.5" stroke="#000" stroke-width="1.0"/>
<line x1="507.8" y1="599.3" x2="680.4" y2="599.3" stroke="#000" stroke-width="1.0"/>
<line x1="507.8" y1="610.8" x2="680.4" y2="610.8" stroke="#000" stroke-width="1.0"/>
<line x1="507.8" y1="622.0" x2="680.4" y2="622.0" stroke="#000" stroke-width="1.0"/>
<line x1="643.6" y1="453.7" x2="643.6" y2="465.5" stroke="#000" stroke-width="1.0"/>
<line x1="643.6" y1="476.8" x2="643.6" y2="511.3" stroke="#000" stroke-width="1.0"/>
<line x1="643.6" y1="522.5" x2="643.6" y2="599.3" stroke="#000" stroke-width="1.0"/>
<line x1="643.6" y1="610.8" x2="643.6" y2="633.0" stroke="#000" stroke-width="1.0"/>
<text x="540.3" y="450.6" font-family='"Liberation Sans", sans-serif' font-size="12.4" font-weight="normal" text-anchor="start" fill="#111" textLength="107.2" lengthAdjust="spacingAndGlyphs">SQUARE FOOTAGE CALCS</text>
<text x="563.4" y="463.1" font-family='"Liberation Sans", sans-serif' font-size="9.2" font-weight="normal" text-anchor="start" fill="#111" textLength="23.5" lengthAdjust="spacingAndGlyphs" stroke="#111" stroke-width="0.1">4028-8</text>
<text x="651.0" y="463.1" font-family='"Liberation Sans", sans-serif' font-size="9.2" font-weight="normal" text-anchor="start" fill="#111" textLength="22.0" lengthAdjust="spacingAndGlyphs" stroke="#111" stroke-width="0.1">ELEV C</text>
<text x="581.8" y="474.0" font-family='"Liberation Sans", sans-serif' font-size="9.0" font-weight="normal" text-anchor="start" fill="#111" textLength="24.0" lengthAdjust="spacingAndGlyphs" stroke="#111" stroke-width="0.15">LIVABLE</text>
<text x="508.7" y="486.1" font-family='"Liberation Sans", sans-serif' font-size="9.3" font-weight="normal" text-anchor="start" fill="#111" textLength="38.0" lengthAdjust="spacingAndGlyphs" stroke="#111" stroke-width="0.15">FIRST FLOOR</text>
<text x="662.2" y="486.1" font-family='"Liberation Sans", sans-serif' font-size="9.3" font-weight="normal" text-anchor="middle" fill="#111" textLength="15.0" lengthAdjust="spacingAndGlyphs" stroke="#111" stroke-width="0.1">1693</text>
<text x="508.7" y="497.3" font-family='"Liberation Sans", sans-serif' font-size="9.3" font-weight="normal" text-anchor="start" fill="#111" textLength="45.5" lengthAdjust="spacingAndGlyphs" stroke="#111" stroke-width="0.15">SECOND FLOOR</text>
<text x="662.2" y="497.3" font-family='"Liberation Sans", sans-serif' font-size="9.3" font-weight="normal" text-anchor="middle" fill="#111" textLength="14.6" lengthAdjust="spacingAndGlyphs" stroke="#111" stroke-width="0.1">1128</text>
<text x="508.7" y="509.2" font-family='"Liberation Sans", sans-serif' font-size="9.3" font-weight="normal" text-anchor="start" fill="#111" textLength="30.7" lengthAdjust="spacingAndGlyphs" stroke="#111" stroke-width="0.15">OPT SUITE</text>
<text x="662.2" y="509.2" font-family='"Liberation Sans", sans-serif' font-size="9.3" font-weight="normal" text-anchor="middle" fill="#111" textLength="11.2" lengthAdjust="spacingAndGlyphs" stroke="#111" stroke-width="0.1">197</text>
<text x="554.4" y="520.0" font-family='"Liberation Sans", sans-serif' font-size="9.0" font-weight="normal" text-anchor="start" fill="#111" textLength="41.2" lengthAdjust="spacingAndGlyphs" stroke="#111" stroke-width="0.15">NON-LIVABLE</text>
<text x="508.7" y="535.5" font-family='"Liberation Sans", sans-serif' font-size="9.3" font-weight="normal" text-anchor="start" fill="#111" textLength="111.3" lengthAdjust="spacingAndGlyphs" stroke="#111" stroke-width="0.15">2 CAR GARAGE AT OPTIONAL SUITE</text>
<text x="662.2" y="535.5" font-family='"Liberation Sans", sans-serif' font-size="9.3" font-weight="normal" text-anchor="middle" fill="#111" textLength="11.2" lengthAdjust="spacingAndGlyphs" stroke="#111" stroke-width="0.1">459</text>
<text x="508.7" y="550.8" font-family='"Liberation Sans", sans-serif' font-size="9.3" font-weight="normal" text-anchor="start" fill="#111" textLength="19.0" lengthAdjust="spacingAndGlyphs" stroke="#111" stroke-width="0.15">PORCH</text>
<text x="662.2" y="550.8" font-family='"Liberation Sans", sans-serif' font-size="9.3" font-weight="normal" text-anchor="middle" fill="#111" textLength="7.0" lengthAdjust="spacingAndGlyphs" stroke="#111" stroke-width="0.1">61</text>
<text x="508.7" y="562.6" font-family='"Liberation Sans", sans-serif' font-size="9.3" font-weight="normal" text-anchor="start" fill="#111" textLength="62.9" lengthAdjust="spacingAndGlyphs" stroke="#111" stroke-width="0.15">STD COVERED PATIO</text>
<text x="662.2" y="562.6" font-family='"Liberation Sans", sans-serif' font-size="9.3" font-weight="normal" text-anchor="middle" fill="#111" textLength="10.8" lengthAdjust="spacingAndGlyphs" stroke="#111" stroke-width="0.1">168</text>
<text x="508.7" y="574.6" font-family='"Liberation Sans", sans-serif' font-size="9.3" font-weight="normal" text-anchor="start" fill="#111" textLength="83.3" lengthAdjust="spacingAndGlyphs" stroke="#111" stroke-width="0.15">OPT GARAGE EXTENSION 2'</text>
<text x="662.2" y="574.6" font-family='"Liberation Sans", sans-serif' font-size="9.3" font-weight="normal" text-anchor="middle" fill="#111" textLength="7.6" lengthAdjust="spacingAndGlyphs" stroke="#111" stroke-width="0.1">44</text>
<text x="508.7" y="591.1" font-family='"Liberation Sans", sans-serif' font-size="9.3" font-weight="normal" text-anchor="start" fill="#111" textLength="118.3" lengthAdjust="spacingAndGlyphs" stroke="#111" stroke-width="0.15">ARCH PROJECTIONS - SECOND FLOOR</text>
<text x="662.2" y="591.1" font-family='"Liberation Sans", sans-serif' font-size="9.3" font-weight="normal" text-anchor="middle" fill="#111" textLength="7.0" lengthAdjust="spacingAndGlyphs" stroke="#111" stroke-width="0.1">16</text>
<text x="583.1" y="608.4" font-family='"Liberation Sans", sans-serif' font-size="9.0" font-weight="normal" text-anchor="start" fill="#111" textLength="21.8" lengthAdjust="spacingAndGlyphs" stroke="#111" stroke-width="0.15">TOTALS</text>
<text x="508.7" y="619.9" font-family='"Liberation Sans", sans-serif' font-size="9.3" font-weight="normal" text-anchor="start" fill="#111" textLength="54.8" lengthAdjust="spacingAndGlyphs" stroke="#111" stroke-width="0.15">MAX UNDER ROOF</text>
<text x="662.2" y="619.9" font-family='"Liberation Sans", sans-serif' font-size="9.3" font-weight="normal" text-anchor="middle" fill="#111" textLength="15.0" lengthAdjust="spacingAndGlyphs" stroke="#111" stroke-width="0.1">3766</text>
<text x="508.7" y="631.4" font-family='"Liberation Sans", sans-serif' font-size="9.3" font-weight="normal" text-anchor="start" fill="#111" textLength="48.3" lengthAdjust="spacingAndGlyphs" stroke="#111" stroke-width="0.15">MAX FOOTPRINT</text>
<text x="662.2" y="631.4" font-family='"Liberation Sans", sans-serif' font-size="9.3" font-weight="normal" text-anchor="middle" fill="#111" textLength="15.0" lengthAdjust="spacingAndGlyphs" stroke="#111" stroke-width="0.1">2622</text>
<rect x="120.6" y="729.5" width="4" height="45" fill="#999"/>
<rect x="12.3" y="728.0" width="107.6" height="50" fill="#fff" stroke="#111" stroke-width="1.1"/>
<text x="17.9" y="741.6" font-family='"Liberation Sans", sans-serif' font-size="11.9" font-weight="normal" text-anchor="start" fill="#222" textLength="94.5" lengthAdjust="spacingAndGlyphs">ALL HOUSE LAYOUT</text>
<text x="17.9" y="754.1" font-family='"Liberation Sans", sans-serif' font-size="11.9" font-weight="normal" text-anchor="start" fill="#222" textLength="97.3" lengthAdjust="spacingAndGlyphs" stroke="#222" stroke-width="0.15">IS TO BE DONE USING</text>
<text x="17.9" y="767.3" font-family='"Liberation Sans", sans-serif' font-size="11.9" font-weight="normal" text-anchor="start" fill="#222" textLength="95.4" lengthAdjust="spacingAndGlyphs" stroke="#222" stroke-width="0.15">PROPERTY PINS ONLY</text>
<text x="5.25" y="743.25" font-family='"Liberation Serif", serif' font-size="21" textLength="40.2" lengthAdjust="spacingAndGlyphs" fill="#fff" stroke="#000" stroke-width="2.1" stroke-linejoin="round" paint-order="stroke">2026</text>
<text x="48.05" y="743.25" font-family='"Liberation Serif", serif' font-size="21" textLength="78.0" lengthAdjust="spacingAndGlyphs" fill="#fff" stroke="#000" stroke-width="2.1" stroke-linejoin="round" paint-order="stroke">ARMLS</text>
</svg>
</body></html>
